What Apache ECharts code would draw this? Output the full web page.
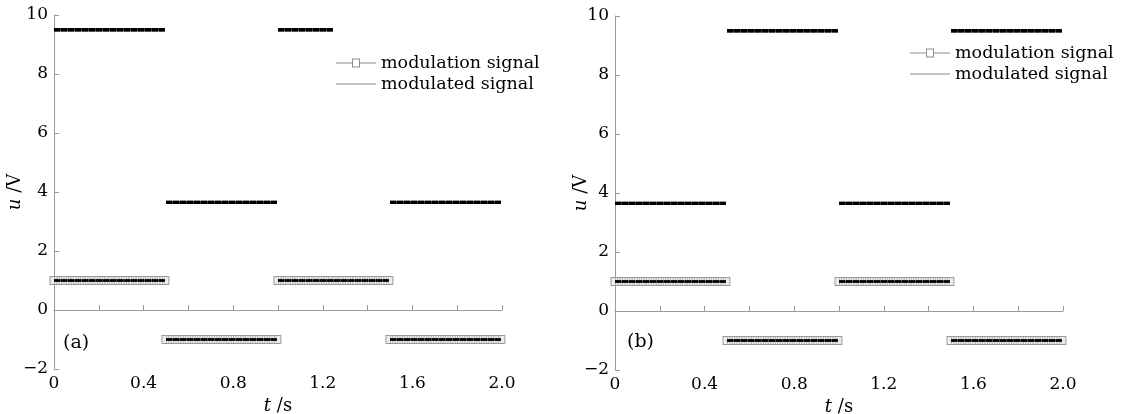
<!DOCTYPE html>
<html><head><meta charset="utf-8">
<script src="https://cdn.jsdelivr.net/npm/echarts@6/dist/echarts.min.js"></script>
<style>html,body{margin:0;padding:0;background:#fff}#c{width:1124px;height:414px}</style>
</head><body><div id="c"></div>
<script>
// ---- data ----
const segStart = [0, 0.5, 1.0, 1.5];
const segEndMod = [0.495, 0.995, 1.495, 1.995];
const modulation = [1, -1, 1, -1];
const modulatedEndA = [0.495, 0.995, 1.245, 1.995];
const modulatedA = [9.5, 3.65, 9.5, 3.65];
const modulatedEndB = [0.495, 0.995, 1.495, 1.995];
const modulatedB = [3.65, 9.5, 3.65, 9.5];
const xTickLabels = ['0', '0.4', '0.8', '1.2', '1.6', '2.0'];
const yTickLabels = ['\u22122', '0', '2', '4', '6', '8', '10'];
const panelLabels = ['(a)', '(b)'];
const legendNames = ['modulation signal', 'modulated signal'];

const FONT = 'DejaVu Serif';
const INK = '#000';

function segs(starts, ends, vals) {
  const d = [];
  starts.forEach((s, i) => {
    d.push([s, vals[i]], [ends[i], vals[i]]);
    if (i < starts.length - 1) d.push([ends[i], '-']);
  });
  return d;
}

const grids = [
  { left: 54, width: 448, top: 15, height: 354, outerBoundsMode: 'none', containLabel: false },
  { left: 615, width: 448, top: 16, height: 354, outerBoundsMode: 'none', containLabel: false }
];

function xAxisFor(g) {
  return {
    type: 'value', gridIndex: g, min: 0, max: 2, interval: 0.4,
    axisLine: { show: true, lineStyle: { color: '#9a9a9a', width: 1 } },
    axisTick: { show: true, inside: true, length: 5, lineStyle: { color: '#9a9a9a' } },
    minorTick: { show: true, splitNumber: 2, length: 5, lineStyle: { color: '#9a9a9a' } },
    splitLine: { show: false },
    axisLabel: {
      color: INK, fontFamily: FONT, fontSize: 17, margin: 6,
      formatter: v => { const i = Math.round(v / 0.4); return xTickLabels[i] || ''; }
    },
    name: '{i|t} /s', nameLocation: 'middle', nameGap: 24,
    nameTextStyle: { color: INK, fontFamily: FONT, fontSize: 18,
      rich: { i: { fontStyle: 'italic', fontFamily: FONT, fontSize: 18, color: INK } } }
  };
}
function yAxisFor(g, gap) {
  return {
    type: 'value', gridIndex: g, min: -2, max: 10, interval: 2,
    axisLine: { show: true, lineStyle: { color: '#9a9a9a', width: 1 } },
    axisTick: { show: true, inside: true, length: 5, lineStyle: { color: '#9a9a9a' } },
    splitLine: { show: false },
    axisLabel: {
      color: INK, fontFamily: FONT, fontSize: 17, margin: 6,
      formatter: v => yTickLabels[Math.round((v + 2) / 2)] || ''
    },
    name: '{i|u} /V', nameLocation: 'middle', nameGap: gap, nameRotate: 90, nameMoveOverlap: false,
    nameTextStyle: { color: INK, fontFamily: FONT, fontSize: 18,
      rich: { i: { fontStyle: 'italic', fontFamily: FONT, fontSize: 18, color: INK } } }
  };
}

function panelSeries(g, modEnd, modVals) {
  const box = segs(segStart, segEndMod, modulation);
  const sig = segs(segStart, modEnd, modVals);
  const common = { type: 'line', xAxisIndex: g, yAxisIndex: g, symbol: 'none', clip: false, silent: true, animation: false };
  return [
    Object.assign({}, common, { name: legendNames[0], data: box, z: 2,
      lineStyle: { color: '#9a9a9a', width: 9, cap: 'square' } }),
    Object.assign({}, common, { name: 'boxInner', data: box, z: 3,
      lineStyle: { color: '#ededed', width: 7, cap: 'square' } }),
    Object.assign({}, common, { name: 'boxTexture', data: box, z: 4,
      lineStyle: { color: '#aaaaaa', width: 7, cap: 'butt', type: [0.8, 1.6] } }),
    Object.assign({}, common, { name: 'boxCenterBase', data: box, z: 5,
      lineStyle: { color: '#3a3a3a', width: 2.6, cap: 'butt' } }),
    Object.assign({}, common, { name: 'boxCenter', data: box, z: 6,
      lineStyle: { color: '#000', width: 2.6, cap: 'butt', type: [6, 1] } }),
    Object.assign({}, common, { name: 'sigBase', data: sig, z: 7,
      lineStyle: { color: '#3a3a3a', width: 3.4, cap: 'butt' } }),
    Object.assign({}, common, { name: legendNames[1], data: sig, z: 8,
      lineStyle: { color: '#000', width: 3.4, cap: 'butt', type: [6, 1] } })
  ];
}

const iconMod = 'path://M0,4.5h16v1h-16z M24,4.5h16v1h-16z M16,0.5h8v9h-8z M17,1.5v7h6v-7z';
const iconLine = 'path://M0,0 M0,4.5h40v1h-40z M40,10';

function legendFor(left, top) {
  return {
    orient: 'vertical', left: left, top: top, itemWidth: 40, itemHeight: 10, itemGap: 3,
    selectedMode: false,
    textStyle: { color: INK, fontFamily: FONT, fontSize: 17.5 },
    data: [
      { name: legendNames[0], icon: iconMod, itemStyle: { color: '#8c8c8c' } },
      { name: legendNames[1], icon: iconLine, itemStyle: { color: '#8c8c8c' } }
    ]
  };
}

const chart = echarts.init(document.getElementById('c'), null, { renderer: 'canvas' });
chart.setOption({
  backgroundColor: '#ffffff',
  animation: false,
  grid: grids,
  xAxis: [xAxisFor(0), xAxisFor(1)],
  yAxis: [yAxisFor(0, 30), yAxisFor(1, 25)],
  legend: [legendFor(331, 49), legendFor(905, 39)],
  graphic: [
    { type: 'text', left: 63, top: 334, style: { text: panelLabels[0], font: '19px "DejaVu Serif"', fill: INK } },
    { type: 'text', left: 627, top: 333, style: { text: panelLabels[1], font: '19px "DejaVu Serif"', fill: INK } }
  ],
  series: [].concat(panelSeries(0, modulatedEndA, modulatedA), panelSeries(1, modulatedEndB, modulatedB))
});
</script></body></html>
